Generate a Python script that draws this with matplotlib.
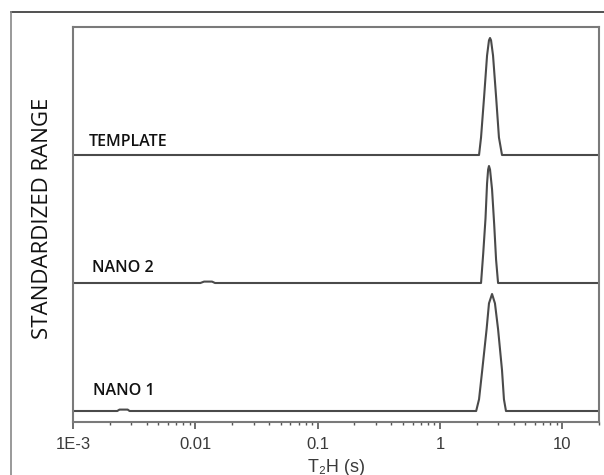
import matplotlib
matplotlib.use("Agg")
import matplotlib.pyplot as plt
from matplotlib.lines import Line2D
from matplotlib.ticker import FixedLocator, FixedFormatter, LogLocator, NullFormatter

# T2H values (s) and standardized amplitudes
template_t2 = [0.001, 2.09, 2.17, 2.30, 2.43, 2.52, 2.57, 2.62, 2.72, 2.88, 3.04, 3.22, 20]
template_amp = [0, 0, 0.15, 0.5, 0.85, 0.98, 1.0, 0.98, 0.85, 0.5, 0.15, 0, 0]

nano2_t2 = [0.001, 0.0110, 0.0118, 0.0137, 0.0145, 2.17, 2.26, 2.36, 2.43, 2.48, 2.52,
            2.57, 2.67, 2.78, 2.88, 2.99, 20]
nano2_amp = [0, 0, 0.012, 0.012, 0, 0, 0.25, 0.55, 0.85, 0.97, 1.0,
             0.97, 0.8, 0.5, 0.2, 0, 0]

nano1_t2 = [0.001, 0.0023, 0.0024, 0.0028, 0.0029, 1.98, 2.09, 2.22, 2.41, 2.52, 2.67,
            2.82, 2.99, 3.22, 3.34, 3.47, 20]
nano1_amp = [0, 0, 0.012, 0.012, 0, 0, 0.1, 0.35, 0.7, 0.92, 1.0,
             0.92, 0.7, 0.35, 0.1, 0, 0]

names = ["NANO 1", "NANO 2", "TEMPLATE"]
offsets = [0.094, 1.188, 2.282]
label_x = [0.00146, 0.00143, 0.00135]
label_y = [0.231, 1.282, 2.359]
tick_vals = [0.001, 0.01, 0.1, 1, 10]
tick_text = ["1E-3", "0.01", "0.1", "1", "10"]

fig = plt.figure(figsize=(6.04, 4.75), dpi=100)
ax = fig.add_axes([73 / 604, 53 / 475, 526 / 604, 395 / 475])

series = [(nano1_t2, nano1_amp), (nano2_t2, nano2_amp), (template_t2, template_amp)]
for (t2, amp), off, name, lx, ly in zip(series, offsets, names, label_x, label_y):
    ax.plot(t2, [a + off for a in amp], color="#4a4a4a", lw=1.5)
    ax.text(lx, ly, name, fontsize=11.5, family="Open Sans", weight="semibold",
            color="#111111", va="baseline", ha="left")

ax.set_xscale("log")
ax.set_xlim(0.001, 20)
ax.set_ylim(0, 3.376)
ax.xaxis.set_major_locator(FixedLocator(tick_vals))
ax.xaxis.set_major_formatter(FixedFormatter(tick_text))
ax.xaxis.set_minor_locator(LogLocator(base=10, subs=range(2, 10)))
ax.xaxis.set_minor_formatter(NullFormatter())
ax.tick_params(axis="x", which="major", direction="out", length=5, width=1.2,
               color="#555555", labelsize=12, labelcolor="#3a3a3a", pad=6)
ax.tick_params(axis="x", which="minor", direction="out", length=2.5, width=1.0,
               color="#555555")
ax.set_yticks([])
for lab in ax.get_xticklabels():
    lab.set_family("Liberation Sans")

for sp in ax.spines.values():
    sp.set_color("#7a7a7a")
    sp.set_linewidth(1.5)

ax.set_xlabel("T\u2082H (s)", fontsize=13, family="Liberation Sans", color="#3a3a3a",
              labelpad=5)
fig.text(43 / 604, 1 - 218 / 475, "STANDARDIZED RANGE", rotation=90, fontsize=16,
         family="Open Sans", color="#111111", ha="center", va="center")

# outer frame of the original figure
fig.add_artist(Line2D([11 / 604, 1], [1 - 12 / 475, 1 - 12 / 475], color="#333333", lw=1.2))
fig.add_artist(Line2D([11 / 604, 11 / 604], [0, 1 - 12 / 475], color="#888888", lw=1.2))

fig.savefig("out.png", dpi=100)
